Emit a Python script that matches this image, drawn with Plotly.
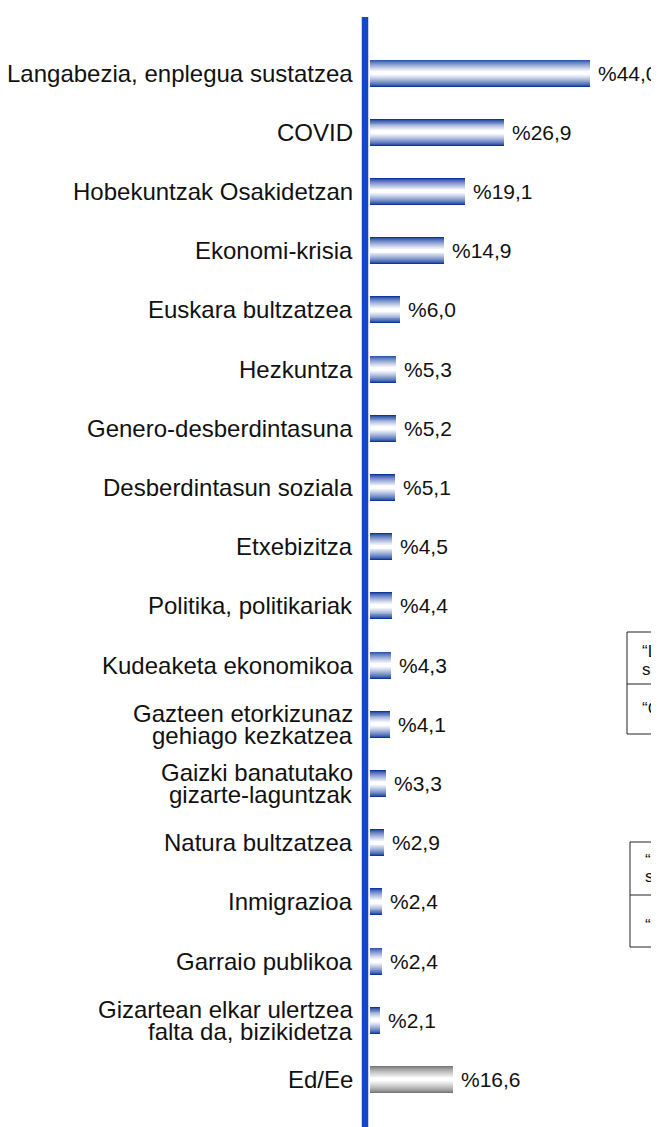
import plotly.graph_objects as go

categories = [
    "Langabezia, enplegua sustatzea",
    "COVID",
    "Hobekuntzak Osakidetzan",
    "Ekonomi-krisia",
    "Euskara bultzatzea",
    "Hezkuntza",
    "Genero-desberdintasuna",
    "Desberdintasun soziala",
    "Etxebizitza",
    "Politika, politikariak",
    "Kudeaketa ekonomikoa",
    "Gazteen etorkizunaz<br>gehiago kezkatzea",
    "Gaizki banatutako<br>gizarte-laguntzak",
    "Natura bultzatzea",
    "Inmigrazioa",
    "Garraio publikoa",
    "Gizartean elkar ulertzea<br>falta da, bizikidetza",
    "Ed/Ee",
]
values = [44.0, 26.9, 19.1, 14.9, 6.0, 5.3, 5.2, 5.1, 4.5, 4.4, 4.3, 4.1, 3.3, 2.9, 2.4, 2.4, 2.1, 16.6]
is_nodata = [False] * 17 + [True]

FONT = "Liberation Sans, Arial, sans-serif"
positions = list(range(len(categories)))

def lerp(c1, c2, t):
    return "rgb(%d,%d,%d)" % tuple(round(a + (b - a) * t) for a, b in zip(c1, c2))

BLUE_DARK = (12, 56, 158)
GRAY_DARK = (118, 118, 118)
WHITE = (255, 255, 255)

OFF = 8
FIG_W, FIG_H = 651, 1119
PLOT_L, PLOT_T = 366, 17
PLOT_W = FIG_W + OFF - PLOT_L
PLOT_H = FIG_H + OFF - PLOT_T

fig = go.Figure()
N = 14
W = 0.456
for k in range(N):
    frac = 1 - k / N
    t = min(1.0, (k / (N - 1)) ** 0.75 * 1.05)
    cols = [lerp(GRAY_DARK if g else BLUE_DARK, WHITE, t) for g in is_nodata]
    fig.add_trace(go.Bar(
        x=values, y=positions, orientation="h", width=W * frac,
        marker=dict(color=cols, line=dict(width=0)),
        hoverinfo="skip", showlegend=False,
    ))

annotations = []
for i, v in enumerate(values):
    annotations.append(dict(
        x=v, y=i, xref="x", yref="y", xanchor="left", yanchor="middle",
        xshift=6, text=("%" + f"{v:.1f}".replace(".", ",")),
        showarrow=False, font=dict(family=FONT, size=21, color="#111111"),
    ))
for i, c in enumerate(categories):
    lines = c.split("<br>")
    n = len(lines)
    for j, ln in enumerate(lines):
        annotations.append(dict(
            x=0, y=i, xref="paper", yref="y", xanchor="right", yanchor="middle",
            xshift=-11, yshift=(n - 1) * 11 - j * 22,
            text=ln, showarrow=False,
            font=dict(family=FONT, size=24, color="#111111"),
        ))

def px2paper_x(px):
    return (px - PLOT_L) / PLOT_W
def px2paper_y(py):
    return 1 - (py - PLOT_T) / PLOT_H

box_texts = [
    ("“Langabezia, enplegua", "sustatzea”", "“COVID”"),
    ("“Langabezia, enplegua", "sustatzea”", "“COVID”"),
]
boxes = [
    dict(x0=627, y0=632, ymid=684, y1=734, tx=640, ty=[651, 669, 708]),
    dict(x0=630, y0=842, ymid=895, y1=947, tx=643, ty=[860, 876, 925]),
]
shapes = []
for b, txt in zip(boxes, box_texts):
    shapes.append(dict(type="rect", xref="paper", yref="paper",
                       x0=px2paper_x(b["x0"]), x1=px2paper_x(720),
                       y0=px2paper_y(b["y1"]), y1=px2paper_y(b["y0"]),
                       line=dict(color="#222222", width=1), fillcolor="rgba(0,0,0,0)"))
    shapes.append(dict(type="line", xref="paper", yref="paper",
                       x0=px2paper_x(b["x0"]), x1=px2paper_x(720),
                       y0=px2paper_y(b["ymid"]), y1=px2paper_y(b["ymid"]),
                       line=dict(color="#222222", width=1)))
    for t, yy in zip(txt, b["ty"]):
        annotations.append(dict(
            x=px2paper_x(b["tx"]), y=px2paper_y(yy), xref="paper", yref="paper",
            xanchor="left", yanchor="middle", text=t, showarrow=False,
            font=dict(family=FONT, size=17, color="#111111"),
        ))

shapes.append(dict(type="line", xref="paper", yref="paper",
                   x0=px2paper_x(365), x1=px2paper_x(365), y0=0, y1=1,
                   line=dict(color="#1048C8", width=6.5)))

y_top = (PLOT_T - 73) / 59.2
y_bot = (PLOT_T + PLOT_H - 73) / 59.2
x_left = -(369.5 - PLOT_L) / 5.01
x_right = (PLOT_L + PLOT_W - 369.5) / 5.01

fig.update_layout(
    width=FIG_W, height=FIG_H,
    margin=dict(l=PLOT_L - OFF, r=0, t=PLOT_T - OFF, b=0),
    barmode="overlay",
    bargap=0,
    plot_bgcolor="white", paper_bgcolor="white",
    xaxis=dict(range=[x_left, x_right], visible=False, fixedrange=True),
    yaxis=dict(range=[y_bot, y_top], showticklabels=False, showgrid=False,
               zeroline=False, showline=False, ticks="", fixedrange=True),
    annotations=annotations,
    shapes=shapes,
    font=dict(family=FONT),
)

fig.write_html("out.html")
